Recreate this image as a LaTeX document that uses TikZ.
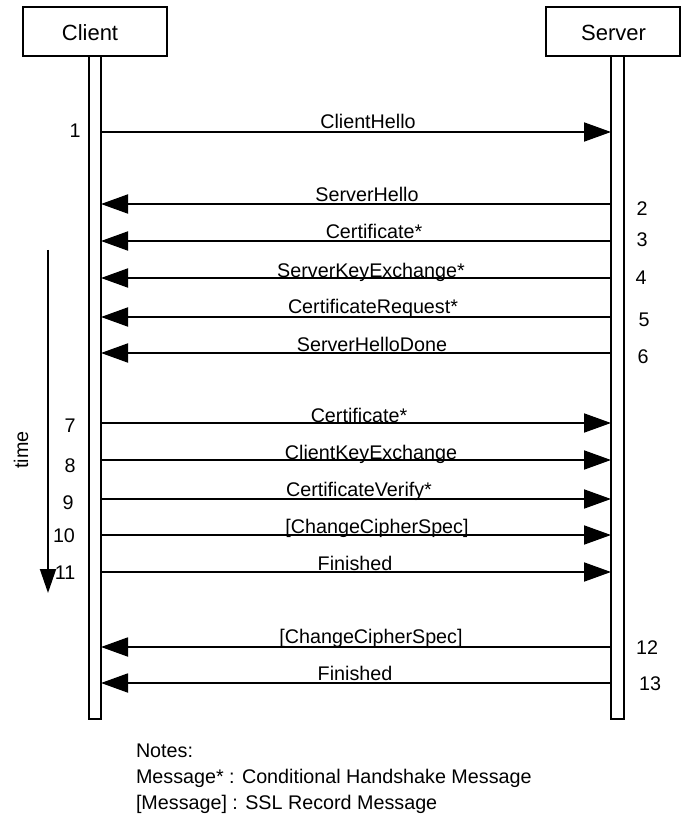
\documentclass[tikz,border=0pt]{standalone}
\usepackage{fontspec}
\setmainfont{Liberation Sans}
\usetikzlibrary{arrows.meta}
\begin{document}
\begin{tikzpicture}[x=0.75pt,y=-0.75pt,
  every node/.style={inner sep=0pt, outer sep=0pt},
  actor/.style={draw, line width=1.4pt, minimum height=36.75pt},
  actorlbl/.style={font=\fontsize{16.5}{19}\selectfont},
  lbl/.style={font=\fontsize{14.8}{17}\selectfont, anchor=base},
  num/.style={font=\fontsize{14.8}{17}\selectfont},
  note/.style={font=\fontsize{14.8}{17}\selectfont, anchor=base west},
  life/.style={line width=1.4pt},
  msg/.style={line width=1.4pt, -{Triangle[length=20.25pt,width=14.25pt]}},
  timearrow/.style={line width=1.4pt, -{Triangle[length=18pt,width=12pt]}},
]
\useasboundingbox (0,0) rectangle (682,816);

% actors
\node[actor, minimum width=108pt] (client) at (95,31.5) {};
\node[actorlbl] (clientlbl) at (90,32.5) {Client};
\node[actor, minimum width=100.5pt] (server) at (613,31.5) {};
\node[actorlbl] (serverlbl) at (613.5,32.5) {Server};

% lifelines
\draw[life] (89,56) -- (89,719) -- (101,719) -- (101,56);
\draw[life] (611,56) -- (611,719) -- (624,719) -- (624,56);

% client -> server
\foreach \i/\y/\t/\x/\b in {1/132/ClientHello/368/128.5,
    7/423/Certificate*/359/422.5,
    8/460/ClientKeyExchange/371/459,
    9/499/CertificateVerify*/359/496,
    10/535/{[ChangeCipherSpec]}/377/533,
    11/572/Finished/355/570}{
  \coordinate (c\i) at (101,\y);
  \coordinate (s\i) at (611,\y);
  \draw[msg] (c\i) -- (s\i);
  \node[lbl] (m\i) at (\x,\b) {\t};
}

% server -> client
\foreach \i/\y/\t/\x/\b in {2/204/ServerHello/367/201.5,
    3/241/Certificate*/374/238.5,
    4/278/ServerKeyExchange*/371/277,
    5/317/CertificateRequest*/373/313,
    6/353/ServerHelloDone/372/351,
    12/647/{[ChangeCipherSpec]}/371/643,
    13/683/Finished/355/680}{
  \coordinate (c\i) at (101,\y);
  \coordinate (s\i) at (611,\y);
  \draw[msg] (s\i) -- (c\i);
  \node[lbl] (m\i) at (\x,\b) {\t};
}

% step numbers
\foreach \i/\x/\y in {1/75/131, 7/70/426, 8/70/466, 9/68/503, 10/64/536, 11/65/573,
    2/642/209, 3/642/240, 4/641/278, 5/644/320, 6/643/357, 12/647/648, 13/650/684}{
  \node[num] (n\i) at (\x,\y) {\i};
}

% time axis
\coordinate (t0) at (48,250);
\coordinate (t1) at (48,593);
\draw[timearrow] (t0) -- (t1);
\node[num, rotate=90] (timelbl) at (21,450) {time};

% notes
\node[note] (note0) at (136,757) {Notes:};
\node[note] (note1) at (136,783) {Message* : Conditional Handshake Message};
\node[note] (note2) at (136,809) {[Message] : SSL Record Message};
\end{tikzpicture}
\end{document}
